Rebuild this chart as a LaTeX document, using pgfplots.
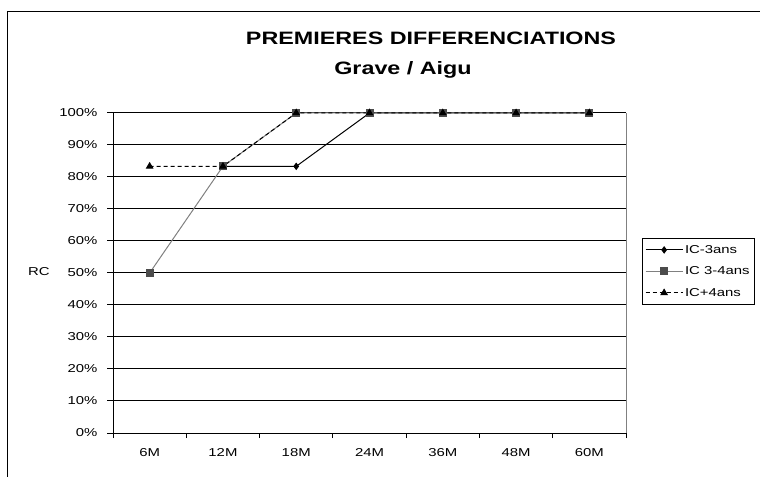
\documentclass[border=0pt]{standalone}
\usepackage{pgfplots}
\pgfplotsset{compat=1.18}
\usepackage{fontspec}
\setmainfont{Liberation Sans}[FakeStretch=1.3]
\begin{document}
\begin{tikzpicture}
\path[use as bounding box] (0,0) rectangle (760bp,477bp);
\begin{scope}
\clip (0,0) rectangle (760bp,477bp);
\draw[line width=1bp] (7bp,465bp) rectangle (800bp,-50bp);
\end{scope}
\node[anchor=base, font=\bfseries\fontsize{18}{18}\selectfont, inner sep=0pt] at (431bp,432bp) {PREMIERES DIFFERENCIATIONS};
\node[anchor=base, font=\bfseries\fontsize{18}{18}\selectfont, inner sep=0pt] at (403bp,402bp) {Grave / Aigu};
\node[font=\fontsize{11.5}{13}\selectfont] at (39bp,205bp) {RC};
\begin{axis}[
 at={(113bp,44bp)}, anchor=south west,
 scale only axis, width=513bp, height=320bp,
 xmin=0, xmax=7, ymin=0, ymax=100,
 axis line style={draw=none},
 xtick={0.5,1.5,...,6.5},
 xticklabels={6M,12M,18M,24M,36M,48M,60M},
 minor xtick={0,1,...,7},
 ytick={0,10,...,100},
 yticklabel={\pgfmathprintnumber{\tick}\%},
 xtick pos=bottom, ytick pos=left,
 tick align=outside,
 major x tick style={draw=none},
 minor x tick style={black, line width=1bp},
 minor tick length=5bp,
 major tick length=12bp,
 y tick style={black, line width=1bp, xshift=6bp},
 ymajorgrids, grid style={black, line width=1bp},
 /pgf/number format/assume math mode=true,
 ticklabel style={font=\fontsize{11.5}{13}\selectfont},
 clip=false,
 legend style={at={(1.031,0.505)}, anchor=west, draw=black, line width=0.6bp,
   font=\fontsize{11.5}{13}\selectfont, row sep=8bp, inner xsep=3bp, inner ysep=5bp,
   cells={anchor=west}},
 legend image code/.code={\draw[mark repeat=2,mark phase=2,#1] plot coordinates {(0cm,0cm) (0.65cm,0cm) (1.3cm,0cm)};},
]
\addplot[black, line width=1bp, mark=diamond*, mark size=3bp, mark options={solid}] coordinates {(1.5,83.33) (2.5,83.33) (3.5,100) (4.5,100) (5.5,100) (6.5,100)};
\addlegendentry{IC-3ans}
\addplot[gray, line width=1bp, mark=square*, mark size=3.5bp, mark options={solid, fill=black!70, draw=black!70}] coordinates {(0.5,50) (1.5,83.33) (2.5,100) (3.5,100) (4.5,100) (5.5,100) (6.5,100)};
\addlegendentry{IC 3-4ans}
\addplot[black, line width=1bp, dash pattern=on 4bp off 3bp, mark=triangle*, mark size=3.5bp, mark options={solid}] coordinates {(0.5,83.33) (1.5,83.33) (2.5,100) (3.5,100) (4.5,100) (5.5,100) (6.5,100)};
\addlegendentry{IC+4ans}
\draw[black, line width=1bp] (rel axis cs:0,0) -- (rel axis cs:1,0);
\draw[black, line width=1bp] (rel axis cs:0,0) -- (rel axis cs:0,1);
\draw[gray, line width=0.8bp] (rel axis cs:1,0) -- (rel axis cs:1,1);
\end{axis}
\end{tikzpicture}
\end{document}
